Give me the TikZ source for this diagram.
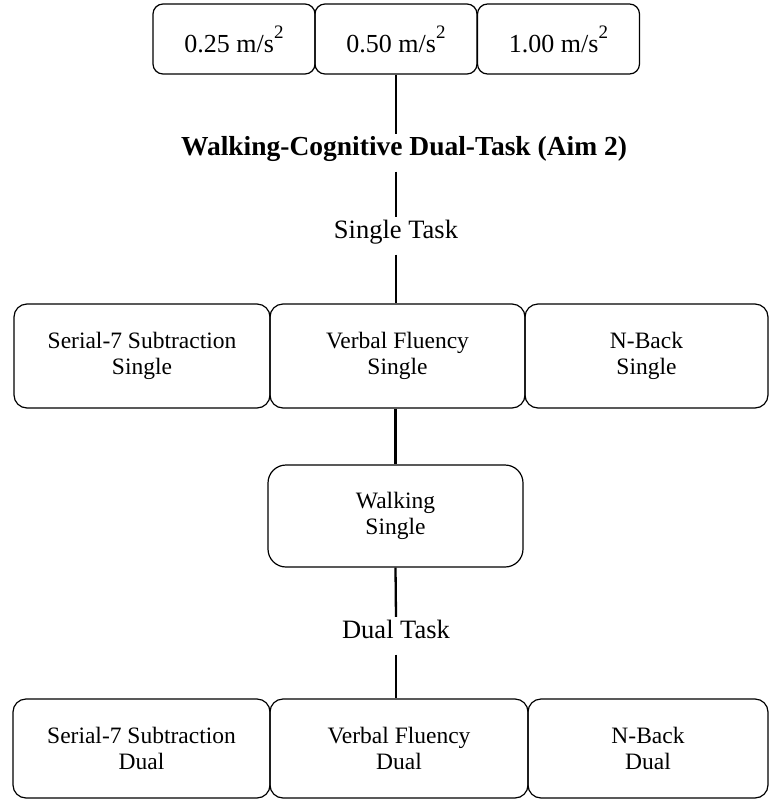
\documentclass[tikz,border=0pt]{standalone}
\usepackage{fontspec}
\setmainfont{Liberation Serif}
\usetikzlibrary{positioning}
\newcommand{\sqr}{\raisebox{14pt}{\fontsize{19}{19}\selectfont 2}}
\tikzset{
  box/.style    = {draw, rounded corners=13pt, line width=1.2pt, align=center,
                   inner sep=0pt, font=\fontsize{23.5}{26.5}\selectfont},
  accbox/.style = {box, rounded corners=10pt, minimum width=162pt, minimum height=70pt,
                   font=\fontsize{26}{28}\selectfont},
  rowbox/.style = {box, minimum height=104pt},
  lbl/.style    = {anchor=base, inner xsep=2pt, inner ysep=14pt,
                   text height=0.7em, text depth=0.25em,
                   font=\fontsize{26.5}{28}\selectfont},
  ttl/.style    = {lbl, font=\fontsize{27.5}{30}\selectfont\bfseries},
  link/.style   = {line width=2.3pt},
}
\begin{document}
\begin{tikzpicture}[x=1pt, y=-1pt]
\path[fill=white, use as bounding box] (0,0) rectangle (769,801);

% =========================================================================
% Aceleraciones
% =========================================================================
\foreach \x/\v/\n in {234/0.25/a, 396/0.50/b, 558.5/1.00/c}
  \node[accbox] (acc\n) at (\x,39) {\v\ m/s\sqr};

\node[ttl] (aim) at (404,155) {Walking-Cognitive Dual-Task (Aim 2)};
\node[lbl] (single) at (396,238) {Single Task};

\draw[link] (accb.south) -- (accb.south |- aim.north);
\draw[link] (accb.south |- aim.south) -- (single.north);

% =========================================================================
% Single task
% =========================================================================
\node[rowbox, minimum width=256pt] (sers) at (142,356) {Serial-7 Subtraction\\Single};
\node[rowbox, minimum width=255pt] (vfs)  at (397.5,356) {Verbal Fluency\\Single};
\node[rowbox, minimum width=243pt] (nbs)  at (646.5,356) {N-Back\\Single};

\node[box, rounded corners=18pt, minimum width=255pt, minimum height=102pt] (walk)
  at (395.5,516) {Walking\\Single};

\draw[link] (single.south) -- (single.south |- vfs.north);
\draw[link] (walk.north |- vfs.south) -- (walk.north);

% =========================================================================
% Dual task
% =========================================================================
\node[lbl] (dual) at (396,638) {Dual Task};

\node[box, minimum width=257pt, minimum height=99pt] (serd) at (141.5,748.5) {Serial-7 Subtraction\\Dual};
\node[box, minimum width=258pt, minimum height=99pt] (vfd)  at (399,748.5)   {Verbal Fluency\\Dual};
\node[box, minimum width=240pt, minimum height=99pt] (nbd)  at (648,748.5)   {N-Back\\Dual};

\draw[link] (walk.south) -- (dual.north);
\draw[link] (dual.south) -- (dual.south |- vfd.north);

\end{tikzpicture}
\end{document}
